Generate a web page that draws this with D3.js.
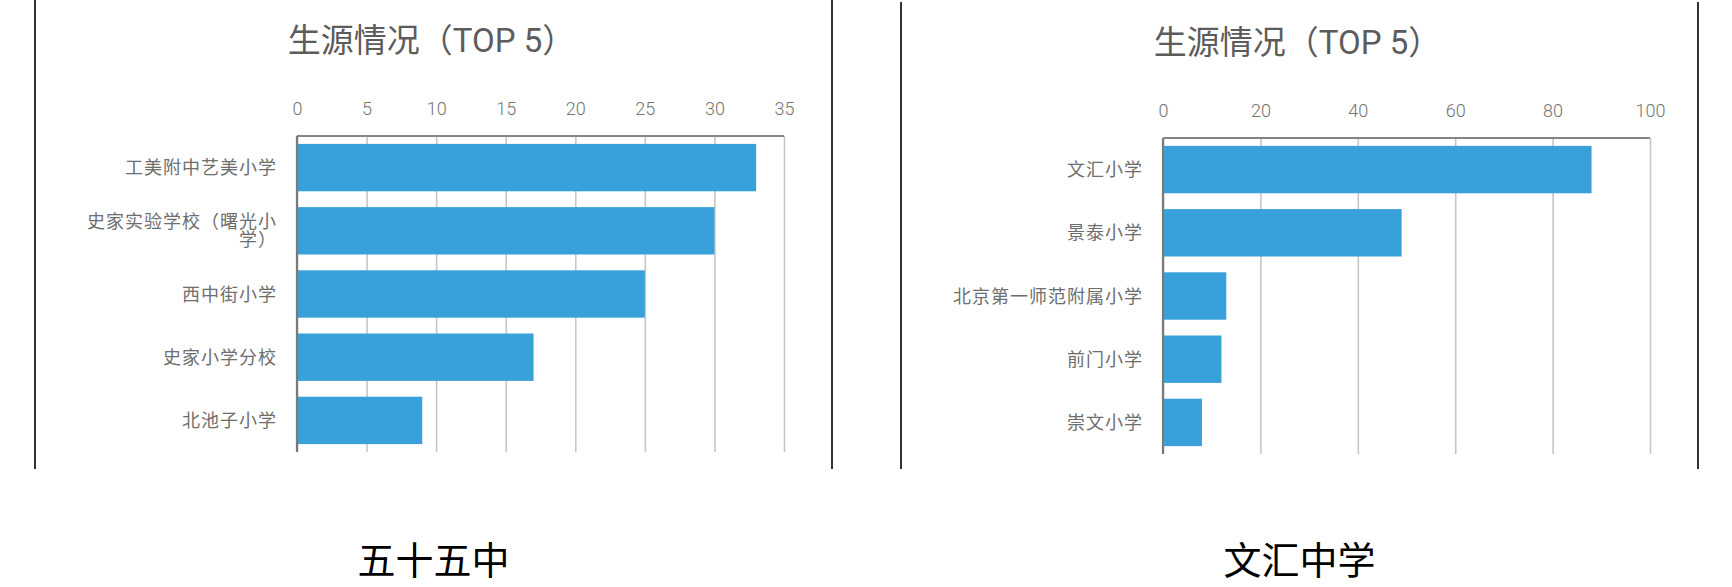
<!DOCTYPE html>
<html>
<head>
<meta charset="utf-8">
<script src="https://cdn.jsdelivr.net/npm/d3@7"></script>
<style>
  html, body { margin: 0; padding: 0; background: #fff; }
  svg { display: block; }
</style>
</head>
<body>
<div id="chart"></div>
<script>
// data
var leftSchools = ['工美附中艺美小学', '史家实验学校（曙光小学）', '西中街小学', '史家小学分校', '北池子小学'];
var leftValues = [33, 30, 25, 17, 9];
var leftTicks = [0, 5, 10, 15, 20, 25, 30, 35];

var rightSchools = ['文汇小学', '景泰小学', '北京第一师范附属小学', '前门小学', '崇文小学'];
var rightValues = [88, 49, 13, 12, 8];
var rightTicks = [0, 20, 40, 60, 80, 100];

var chartTitles = ['生源情况（TOP 5）', '生源情况（TOP 5）'];
var captions = ['五十五中', '文汇中学'];

var W = 1732, H = 587;
var svg = d3.select('#chart').append('svg').attr('width', W).attr('height', H);

var FONT = 'Roboto, "Noto Sans CJK SC", sans-serif';

function drawPanel(ox, oy, title, caption, cats, vals, ticks) {
  var g = svg.append('g').attr('transform', 'translate(' + ox + ',' + oy + ')');
  var frameL = 35, frameR = 832;
  var left = 297, right = 784, top = 136, bottom = 452;

  // frame lines left / right
  [frameL, frameR].forEach(function (fx) {
    g.append('line')
      .attr('x1', fx).attr('x2', fx).attr('y1', 0).attr('y2', 469 - oy)
      .attr('stroke', '#333').attr('stroke-width', 2);
  });

  g.append('text')
    .attr('x', (frameL + frameR) / 2 - 2).attr('y', 40)
    .attr('text-anchor', 'middle').attr('dominant-baseline', 'central')
    .attr('fill', '#5c5c5c').style('font-family', FONT).style('font-size', '33px')
    .text(title);

  var x = d3.scaleLinear().domain([0, ticks[ticks.length - 1]]).range([left, right]);
  var y = d3.scaleBand().domain(cats).range([top, bottom]).paddingInner(0.25).paddingOuter(0.125);

  // grid
  g.append('g').attr('transform', 'translate(0,' + top + ')')
    .call(d3.axisTop(x).tickValues(ticks).tickSize(-(bottom - top)).tickFormat(''))
    .call(function (a) {
      a.select('.domain').remove();
      a.selectAll('.tick line').attr('stroke', '#c6c6c6').attr('stroke-width', 1.6);
    });

  // tick labels
  g.append('g').attr('transform', 'translate(0,' + top + ')')
    .call(d3.axisTop(x).tickValues(ticks).tickSize(0).tickPadding(21))
    .call(function (a) {
      a.select('.domain').remove();
      a.selectAll('text').attr('fill', '#737373')
        .style('font-family', FONT).style('font-size', '18px').style('font-weight', 300);
    });

  // bars
  g.selectAll('.bar').data(cats).enter().append('rect')
    .attr('x', x(0))
    .attr('y', function (d) { return y(d); })
    .attr('width', function (d, i) { return x(vals[i]) - x(0); })
    .attr('height', y.bandwidth())
    .attr('fill', '#39a1d9');

  // top axis line and left axis line
  g.append('line').attr('x1', left).attr('x2', right).attr('y1', top).attr('y2', top)
    .attr('stroke', '#858585').attr('stroke-width', 2.2);
  g.append('line').attr('x1', left).attr('x2', left).attr('y1', top).attr('y2', bottom)
    .attr('stroke', '#7a7a7a').attr('stroke-width', 2.2);

  // category labels, wrapped when too wide
  var maxW = 196;
  cats.forEach(function (c) {
    var t = g.append('text')
      .attr('text-anchor', 'end').attr('fill', '#6e6e6e')
      .style('font-family', FONT).style('font-size', '18px').style('letter-spacing', '1px');
    var chars = Array.from(c), lines = [], cur = '';
    var probe = t.append('tspan');
    chars.forEach(function (ch) {
      probe.text(cur + ch);
      if (probe.node().getComputedTextLength() > maxW && cur) { lines.push(cur); cur = ch; }
      else { cur += ch; }
    });
    lines.push(cur);
    probe.remove();
    var cy = y(c) + y.bandwidth() / 2, lh = 18;
    lines.forEach(function (ln, k) {
      t.append('tspan')
        .attr('x', 277)
        .attr('y', cy + (k - (lines.length - 1) / 2) * lh)
        .attr('dominant-baseline', 'central')
        .text(ln);
    });
  });

  svg.append('text')
    .attr('x', ox + (frameL + frameR) / 2).attr('y', 557)
    .attr('text-anchor', 'middle').attr('dominant-baseline', 'central')
    .attr('fill', '#000').style('font-family', '"Noto Sans CJK SC", sans-serif').style('font-size', '38px')
    .text(caption);
}

drawPanel(0, 0, chartTitles[0], captions[0], leftSchools, leftValues, leftTicks);
drawPanel(866, 2, chartTitles[1], captions[1], rightSchools, rightValues, rightTicks);
</script>
</body>
</html>
